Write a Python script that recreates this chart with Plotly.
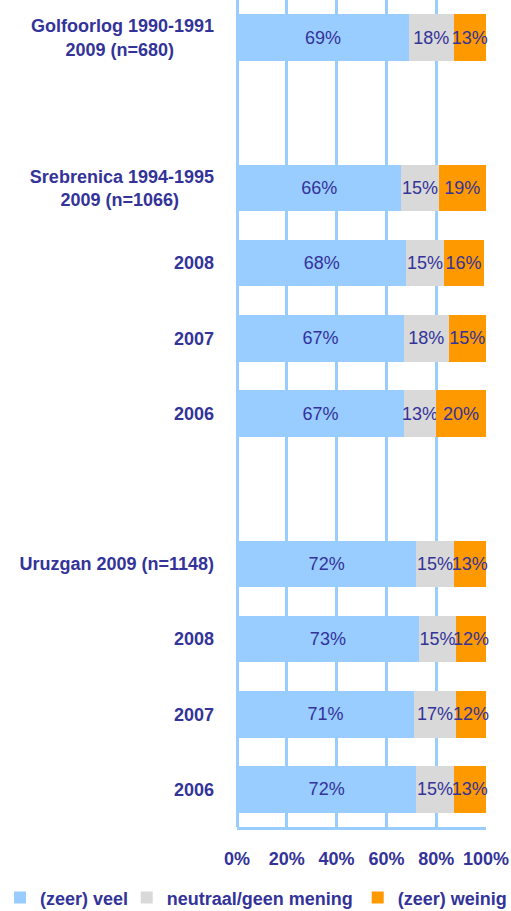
import plotly.graph_objects as go

NB = "\u00a0"
categories = [
    "Golfoorlog 1990-1991<br>2009 (n=680)" + NB * 8,
    "Srebrenica 1994-1995<br>2009 (n=1066)" + NB * 7,
    "2008", "2007", "2006",
    "Uruzgan 2009 (n=1148)",
    "2008", "2007", "2006",
]
slots = [0, 2, 3, 4, 5, 7, 8, 9, 10]

veel = [69, 66, 68, 67, 67, 72, 73, 71, 72]
neutraal = [18, 15, 15, 18, 13, 15, 15, 17, 15]
weinig = [13, 19, 16, 15, 20, 13, 12, 12, 13]

series_names = ["(zeer) veel", "neutraal/geen mening", "(zeer) weinig"]
series_values = [veel, neutraal, weinig]
colors = ["#99CCFF", "#D9D9D9", "#FF9900"]
legends = ["legend", "legend2", "legend3"]

x_ticks = [0, 20, 40, 60, 80, 100]
x_ticktext = ["0%", "20%", "40%", "60%", "80%", "100%"]

TXT = "#333399"
FONT = "Liberation Sans, Arial, sans-serif"

fig = go.Figure()
for name, vals, col, lg in zip(series_names, series_values, colors, legends):
    fig.add_trace(go.Bar(
        y=slots, x=vals, orientation="h", name=name,
        marker=dict(color=col, line=dict(width=0)),
        width=0.62,
        text=[f"{v}%" for v in vals],
        textposition="inside", insidetextanchor="middle",
        textangle=0,
        constraintext="none", cliponaxis=False,
        textfont=dict(color=TXT, size=18, family=FONT),
        legend=lg,
    ))

leg_common = dict(
    orientation="h", xref="container", yref="container",
    yanchor="middle", y=0.0145, xanchor="left",
    font=dict(color=TXT, size=18, family=FONT, weight="bold"),
    bgcolor="rgba(0,0,0,0)", itemwidth=30,
)

fig.update_layout(
    width=511, height=911, autosize=False,
    barmode="stack",
    plot_bgcolor="white", paper_bgcolor="white",
    margin=dict(l=237, r=25, t=0, b=84),
    font=dict(family=FONT, color=TXT, size=18),
    showlegend=True,
    legend=dict(**leg_common, x=-0.006),
    legend2=dict(**leg_common, x=0.248),
    legend3=dict(**leg_common, x=0.70),
    xaxis=dict(
        range=[0, 100], tickvals=x_ticks, ticktext=x_ticktext,
        showgrid=True, gridcolor="#99CCFF", gridwidth=3,
        zeroline=True, zerolinecolor="#99CCFF", zerolinewidth=3,
        showline=True, linecolor="#99CCFF", linewidth=3,
        ticks="", ticklabelstandoff=13,
        tickfont=dict(color=TXT, size=18, family=FONT, weight="bold"),
        fixedrange=True,
    ),
    yaxis=dict(
        range=[10.5, -0.5], tickvals=slots, ticktext=categories,
        showgrid=False, zeroline=False, showline=False,
        ticks="", ticklabelstandoff=22,
        tickfont=dict(color=TXT, size=18, family=FONT, weight="bold"),
        fixedrange=True,
    ),
)

fig.write_html(
    "out.html",
    config={"displayModeBar": False},
    post_script="document.body.style.margin='0';document.body.style.overflow='hidden';",
)
